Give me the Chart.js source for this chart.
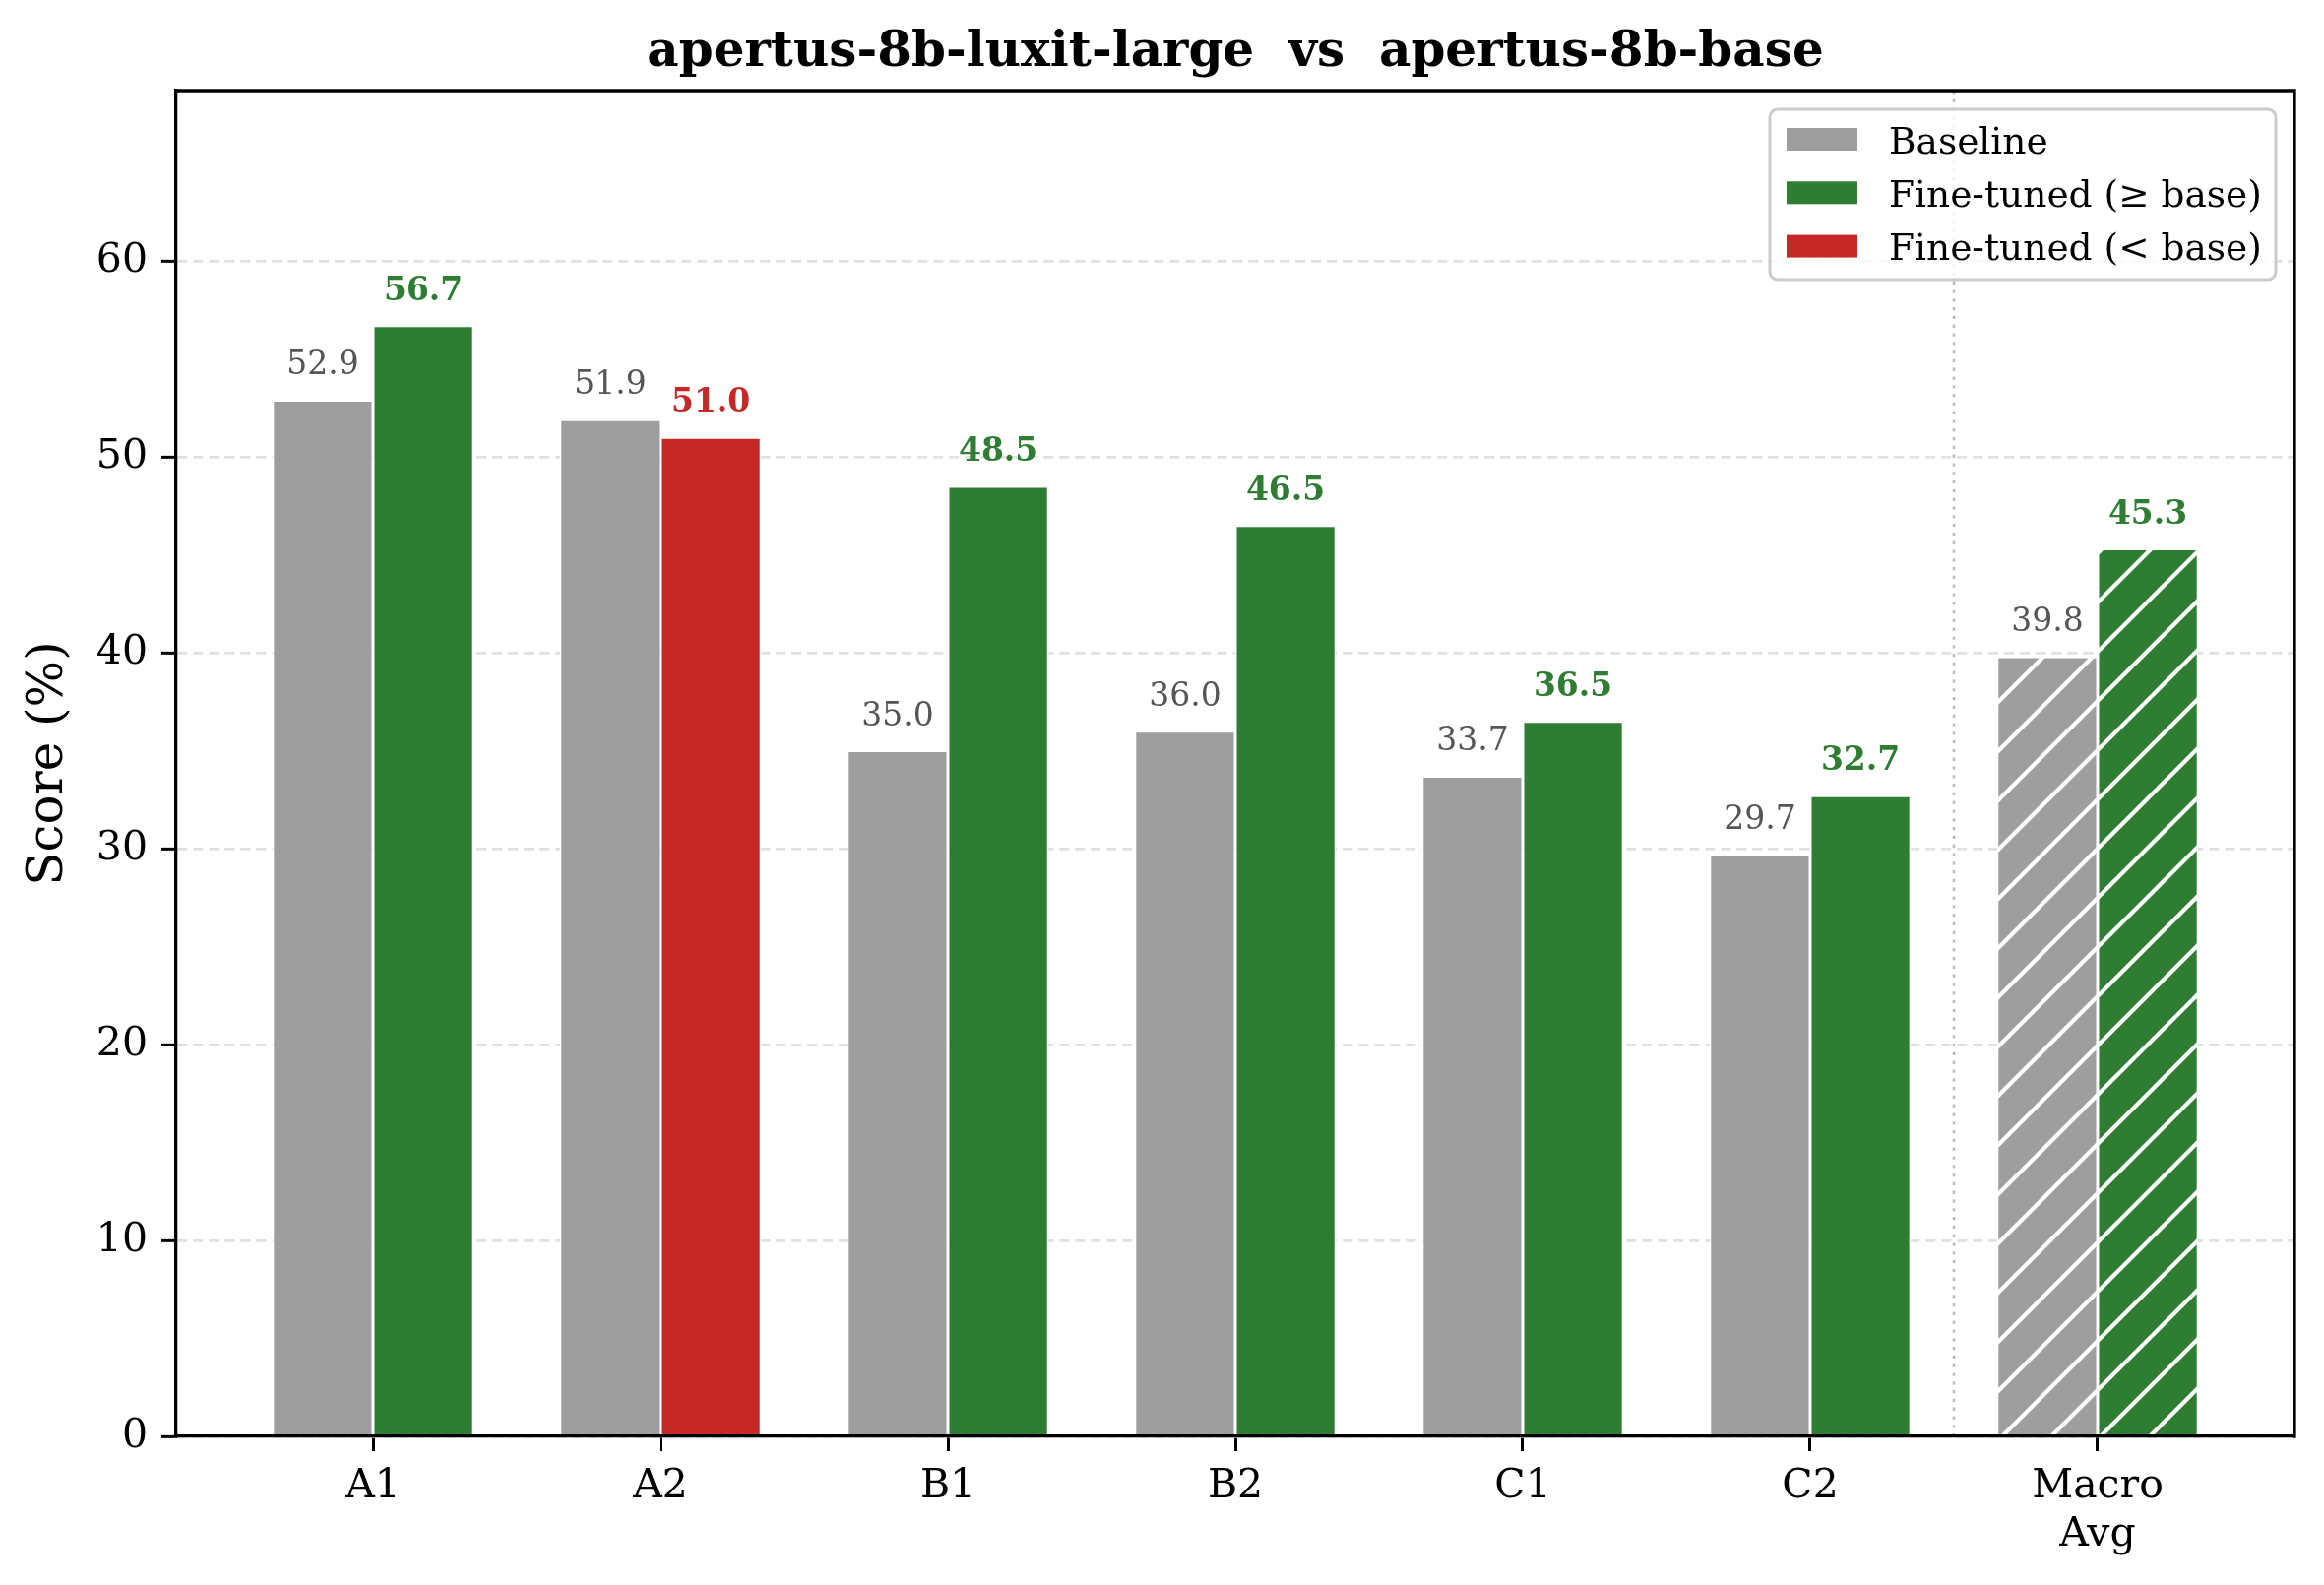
<!DOCTYPE html>
<html>
<head>
<meta charset="utf-8">
<script src="https://cdn.jsdelivr.net/npm/chart.js@4.4.1/dist/chart.umd.min.js"></script>
<style>
  html, body { margin: 0; padding: 0; background: #ffffff; }
  #wrap { width: 2361px; height: 1610px; }
</style>
</head>
<body>
<div id="wrap"><canvas id="chart" width="2361" height="1610"></canvas></div>
<script>
/* -------------------------------
   Data
--------------------------------*/
const categories = ["A1", "A2", "B1", "B2", "C1", "C2", ["Macro", "Avg"]];
const baselineScores = [52.9, 51.9, 35.0, 36.0, 33.7, 29.7, 39.8];
const finetunedScores = [56.7, 51.0, 48.5, 46.5, 36.5, 32.7, 45.3];
const yTicks = [0, 10, 20, 30, 40, 50, 60];
const macroIndex = 6;

const TITLE = "apertus-8b-luxit-large  vs  apertus-8b-base";
const GREY = "#9e9e9e";
const GREEN = "#2e7d32";
const RED = "#c62828";
const FONT = '"DejaVu Serif", serif';

Chart.defaults.font.family = FONT;

const canvas = document.getElementById("chart");
const ctx = canvas.getContext("2d");

/* -------------------------------
   Hatch pattern ("/") for macro bars
--------------------------------*/
function makeHatch(color) {
  const size = 50;
  const tile = document.createElement("canvas");
  tile.width = size;
  tile.height = size;
  const c = tile.getContext("2d");
  c.fillStyle = color;
  c.fillRect(0, 0, size, size);
  c.strokeStyle = "#ffffff";
  c.lineWidth = 4.2;
  c.beginPath();
  for (const k of [0, 50, 100]) {
    c.moveTo(k + 5, -5);
    c.lineTo(k - 55, 55);
  }
  c.stroke();
  const pattern = ctx.createPattern(tile, "repeat");
  pattern.setTransform(new DOMMatrix().translate(43, 0));
  return pattern;
}

const baseColors = categories.map((_, i) => (i === macroIndex ? makeHatch(GREY) : GREY));
const tunedColors = finetunedScores.map((v, i) => {
  const col = v >= baselineScores[i] ? GREEN : RED;
  return i === macroIndex ? makeHatch(col) : col;
});

/* -------------------------------
   Extra drawing: labels, legend, frame
--------------------------------*/
const decorations = {
  id: "decorations",
  afterDatasetsDraw(chart) {
    const { ctx, chartArea: area, scales: { x } } = chart;

    // dotted separator before the macro average
    const sx = x.getPixelForValue(5.5);
    ctx.save();
    ctx.strokeStyle = "#bdbdbd";
    ctx.lineWidth = 2.5;
    ctx.setLineDash([3.3, 5.5]);
    ctx.beginPath();
    ctx.moveTo(sx, area.top);
    ctx.lineTo(sx, area.bottom);
    ctx.stroke();
    ctx.restore();

    // value labels
    ctx.save();
    ctx.textAlign = "center";
    ctx.textBaseline = "alphabetic";
    chart.getDatasetMeta(0).data.forEach((bar, i) => {
      ctx.font = `33px ${FONT}`;
      ctx.fillStyle = "#555555";
      ctx.fillText(baselineScores[i].toFixed(1), bar.x, bar.y - 26);
    });
    chart.getDatasetMeta(1).data.forEach((bar, i) => {
      ctx.font = `bold 33px ${FONT}`;
      ctx.fillStyle = finetunedScores[i] >= baselineScores[i] ? GREEN : RED;
      ctx.fillText(finetunedScores[i].toFixed(1), bar.x, bar.y - 26);
    });
    ctx.restore();
  },
  afterDraw(chart) {
    const { ctx, chartArea: area } = chart;
    ctx.save();

    // top and right spines
    ctx.strokeStyle = "#000000";
    ctx.lineWidth = 3.3;
    ctx.lineCap = "square";
    ctx.beginPath();
    ctx.moveTo(area.left, area.top);
    ctx.lineTo(area.right, area.top);
    ctx.lineTo(area.right, area.bottom);
    ctx.stroke();

    // title
    ctx.fillStyle = "#000000";
    ctx.font = `bold 50px ${FONT}`;
    ctx.textAlign = "center";
    ctx.textBaseline = "alphabetic";
    ctx.fillText(TITLE, (area.left + area.right) / 2, 67);

    // y axis title
    ctx.save();
    ctx.translate(63, (area.top + area.bottom) / 2);
    ctx.rotate(-Math.PI / 2);
    ctx.font = `50px ${FONT}`;
    ctx.fillText("Score (%)", 0, 0);
    ctx.restore();

    // legend
    const lw = 514, lh = 173;
    const lx = area.right - 19 - lw;
    const ly = area.top + 19;
    ctx.beginPath();
    ctx.roundRect(lx, ly, lw, lh, 8);
    ctx.fillStyle = "rgba(255,255,255,0.8)";
    ctx.fill();
    ctx.strokeStyle = "#cccccc";
    ctx.lineWidth = 3;
    ctx.stroke();

    const items = [
      ["Baseline", GREY],
      ["Fine-tuned (\u2265 base)", GREEN],
      ["Fine-tuned (< base)", RED]
    ];
    ctx.font = `37.5px ${FONT}`;
    ctx.textAlign = "left";
    items.forEach(([text, color], i) => {
      const cy = ly + 30.5 + i * 54.3;
      ctx.fillStyle = color;
      ctx.fillRect(lx + 17, cy - 11.5, 72, 23);
      ctx.fillStyle = "#000000";
      ctx.fillText(text, lx + 121, cy + 14);
    });

    ctx.restore();
  }
};

/* -------------------------------
   Chart
--------------------------------*/
new Chart(ctx, {
  type: "bar",
  data: {
    datasets: [
      {
        label: "Baseline",
        data: baselineScores.map((y, x) => ({ x, y })),
        backgroundColor: baseColors,
        borderColor: "#ffffff",
        borderWidth: 1.5
      },
      {
        label: "Fine-tuned",
        data: finetunedScores.map((y, x) => ({ x, y })),
        backgroundColor: tunedColors,
        borderColor: "#ffffff",
        borderWidth: 1.5
      }
    ]
  },
  options: {
    responsive: false,
    animation: false,
    devicePixelRatio: 1,
    layout: { padding: { top: 92, right: 30, left: 0, bottom: 0 } },
    datasets: { bar: { categoryPercentage: 0.7, barPercentage: 1.0 } },
    plugins: {
      legend: { display: false },
      tooltip: { enabled: false },
      title: { display: false }
    },
    scales: {
      x: {
        type: "linear",
        min: -0.685,
        max: 6.685,
        bounds: "data",
        offset: false,
        afterBuildTicks: scale => {
          scale.ticks = categories.map((_, i) => ({ value: i }));
        },
        afterFit: scale => {
          scale.height = 151;
        },
        ticks: {
          callback: value => categories[value],
          font: { size: 41 },
          color: "#000000",
          padding: 12,
          maxRotation: 0,
          autoSkip: false
        },
        grid: {
          display: true,
          drawOnChartArea: false,
          drawTicks: true,
          tickLength: 15,
          tickWidth: 3,
          tickColor: "#000000",
          offset: false
        },
        border: { display: true, color: "#000000", width: 3.3, z: 1 }
      },
      y: {
        min: 0,
        max: 68.7,
        bounds: "data",
        afterBuildTicks: scale => {
          scale.ticks = yTicks.map(v => ({ value: v }));
        },
        afterFit: scale => {
          scale.width = 179;
        },
        ticks: {
          callback: value => String(value),
          font: { size: 41 },
          color: "#000000",
          padding: 14
        },
        grid: {
          color: "#e0e0e0",
          lineWidth: 2.7,
          drawTicks: true,
          tickLength: 15,
          tickWidth: 3,
          tickColor: "#000000",
          tickBorderDash: []
        },
        border: { display: true, color: "#000000", width: 3.3, z: 1, dash: [10, 6] }
      }
    }
  },
  plugins: [decorations]
});
</script>
</body>
</html>
